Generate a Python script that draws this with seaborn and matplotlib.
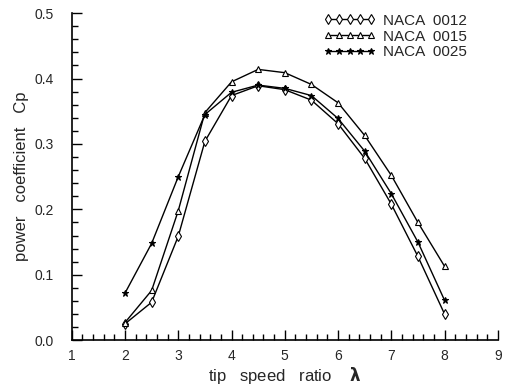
import matplotlib
matplotlib.use("Agg")
import matplotlib.pyplot as plt
import seaborn as sns
from matplotlib.ticker import MultipleLocator, FormatStrFormatter

# tip speed ratio and Cp values
lam = [2, 2.5, 3, 3.5, 4, 4.5, 5, 5.5, 6, 6.5, 7, 7.5, 8]
naca0012 = [0.025, 0.058, 0.159, 0.304, 0.374, 0.389, 0.383, 0.367, 0.331, 0.278, 0.208, 0.128, 0.040]
naca0015 = [0.027, 0.076, 0.198, 0.348, 0.395, 0.414, 0.409, 0.391, 0.363, 0.313, 0.252, 0.180, 0.113]
naca0025 = [0.072, 0.148, 0.250, 0.345, 0.379, 0.390, 0.385, 0.374, 0.339, 0.289, 0.224, 0.150, 0.061]
labels = ["NACA  0012", "NACA  0015", "NACA  0025"]

sns.set_style("ticks")
plt.rcParams['font.family'] = ['Liberation Sans', 'DejaVu Sans']

fig = plt.figure(figsize=(5.09, 3.87), dpi=100)
ax = fig.add_axes([0.141, 0.121, 0.837, 0.845])

styles = [("d", "white", 5), ("^", "white", 5), ("*", "black", 5)]
for vals, lab, (m, fc, ms) in zip([naca0012, naca0015, naca0025], labels, styles):
    sns.lineplot(x=lam, y=vals, ax=ax, color="black", linewidth=1.0,
                 marker=m, markersize=ms, markerfacecolor=fc,
                 markeredgecolor="black", markeredgewidth=0.8, label=lab)

ax.set_xlim(1, 9)
ax.set_ylim(0, 0.5)
ax.xaxis.set_major_locator(MultipleLocator(1))
ax.xaxis.set_minor_locator(MultipleLocator(0.2))
ax.yaxis.set_major_locator(MultipleLocator(0.1))
ax.yaxis.set_minor_locator(MultipleLocator(0.02))
ax.yaxis.set_major_formatter(FormatStrFormatter("%.1f"))
ax.tick_params(which="major", direction="in", length=7, width=1, labelsize=10, color="black")
ax.tick_params(which="minor", direction="in", length=4, width=1, color="black")
ax.tick_params(axis="x", which="major", pad=6)
ax.tick_params(axis="y", which="major", pad=13)
sns.despine(ax=ax)
for s in ["left", "bottom"]:
    ax.spines[s].set_color("black")
    ax.spines[s].set_linewidth(1.2)

ax.set_xlabel("tip   speed   ratio    $\\mathbf{\\lambda}$", fontsize=12, labelpad=2)
ax.set_ylabel("power   coefficient   Cp", fontsize=12, labelpad=4)

ax.legend(loc="upper right", bbox_to_anchor=(0.96, 1.04), frameon=False,
          numpoints=5, handlelength=3.4, handletextpad=0.5, labelspacing=0.12,
          fontsize=11)

fig.savefig("out.png", dpi=100)
